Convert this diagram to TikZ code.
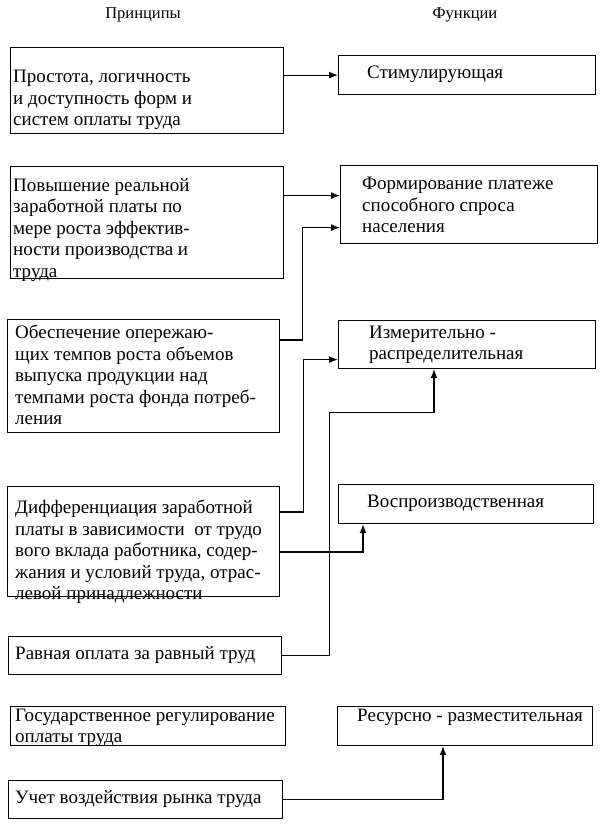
\documentclass[tikz,border=0pt]{standalone}
\usepackage{fontspec}
\setmainfont{Liberation Serif}
\usepackage{tikz}
\usetikzlibrary{arrows.meta,positioning}

\tikzset{
  box/.style={draw,line width=1.2pt,anchor=north west,inner sep=0pt},
  txt/.style={anchor=west,align=left,inner sep=0pt,font=\fontsize{19}{21.5}\selectfont},
  head/.style={inner sep=0pt,font=\fontsize{16.5}{20}\selectfont},
  link/.style={line width=1.2pt,-{Latex[length=9pt,width=7pt]}}
}

\begin{document}
\begin{tikzpicture}[x=1pt,y=-1pt]
                \useasboundingbox (0,0) rectangle (604,828);

                \node[head] (hp) at (143,15) {Принципы};
                \node[head] (hf) at (465,15) {Функции};

                % principles
                \node[box,minimum width=273pt,minimum height=86pt] (p1) at (10,47) {};
                \node[box,minimum width=273pt,minimum height=112pt] (p2) at (10,166) {};
                \node[box,minimum width=272pt,minimum height=113pt] (p3) at (7,319) {};
                \node[box,minimum width=272pt,minimum height=110pt] (p4) at (7,486) {};
                \node[box,minimum width=273pt,minimum height=38pt] (p5) at (8,636) {};
                \node[box,minimum width=275pt,minimum height=39pt] (p6) at (10,706) {};
                \node[box,minimum width=274pt,minimum height=38pt] (p7) at (8,780) {};

                \node[txt] (p1t) at (13,100) {Простота, логичность\\и доступность форм и\\систем оплаты труда};
                \node[txt] (p2t) at (13,230) {Повышение реальной\\заработной платы по\\мере роста эффектив-\\ности производства и\\труда};
                \node[txt] (p3t) at (15,375) {Обеспечение опережаю-\\щих темпов роста объемов\\выпуска продукции над\\темпами роста фонда потреб-\\ления};
                \node[txt] (p4t) at (15,552) {Дифференциация заработной\\платы в зависимости \ от трудо\\вого вклада работника, содер-\\жания и условий труда, отрас-\\левой принадлежности};
                \node[txt] (p5t) at (15,655) {Равная оплата за равный труд};
                \node[txt] (p6t) at (15,728) {Государственное регулирование\\оплаты труда};
                \node[txt] (p7t) at (15,799) {Учет воздействия рынка труда};

                % functions
                \node[box,minimum width=257pt,minimum height=39pt] (f1) at (338,55) {};
                \node[box,minimum width=257pt,minimum height=78pt] (f2) at (340,165) {};
                \node[box,minimum width=257pt,minimum height=48pt] (f3) at (338,320) {};
                \node[box,minimum width=255pt,minimum height=39pt] (f4) at (338,484) {};
                \node[box,minimum width=255pt,minimum height=39pt] (f5) at (337,706) {};

                \node[txt] (f1t) at (367,74) {Стимулирующая};
                \node[txt] (f2t) at (362,205) {Формирование платеже\\способного спроса\\населения};
                \node[txt] (f3t) at (369,345) {Измерительно -\\распределительная};
                \node[txt] (f4t) at (367,503) {Воспроизводственная};
                \node[txt] (f5t) at (357,717) {Ресурсно - разместительная};

                % links
                \coordinate (f2a) at ([yshift=9pt]f2.west);
                \coordinate (f2b) at ([yshift=-23pt]f2.west);
                \coordinate (f3a) at ([yshift=-15pt]f3.west);
                \coordinate (f3b) at ([xshift=96pt]f3.south west);
                \coordinate (f3c) at ([yshift=-43pt]f3b);
                \coordinate (f4a) at ([xshift=25pt]f4.south west);
                \coordinate (f5a) at ([xshift=106pt]f5.south west);
                \coordinate (p3a) at ([yshift=-21pt]p3.north east);
                \coordinate (p4a) at ([yshift=-26pt]p4.north east);
                \coordinate (p4b) at ([yshift=-66pt]p4.north east);

                \draw[link] (p1.east |- f1.west) -- (f1.west);
                \draw[link] (p2.east |- f2a) -- (f2a);
                \draw[link] (p3a) -- ++(22,0) |- (f2b);
                \draw[link] (p4a) -- ++(23,0) |- (f3a);
                \draw[link] (p4b) -| (f4a);
                \draw[link] (p5.east) -- ++(47,0) |- (f3c) -- (f3b);
                \draw[link] (p7.east) -| (f5a);
            \end{tikzpicture}
\end{document}
